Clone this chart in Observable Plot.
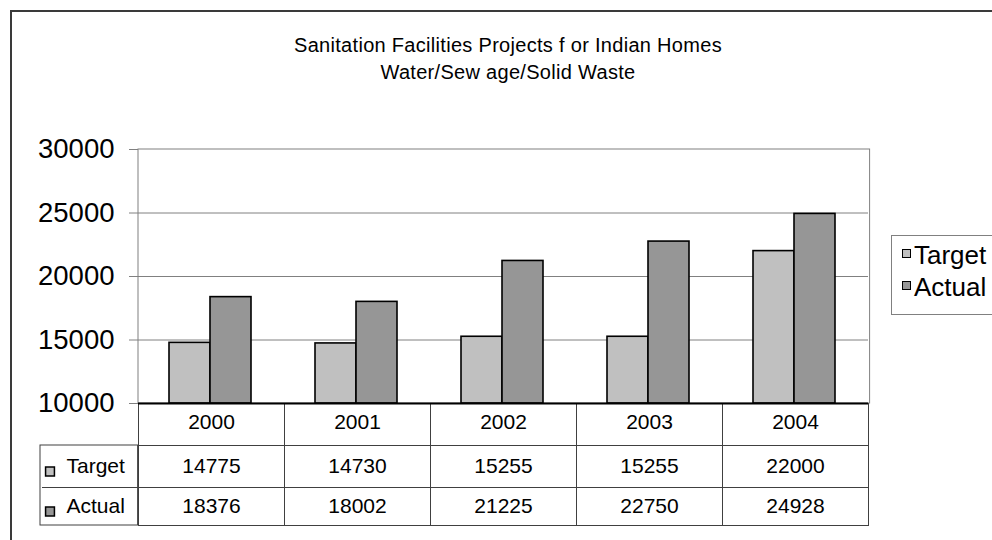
<!DOCTYPE html>
<html>
<head>
<meta charset="utf-8">
<script src="https://cdn.jsdelivr.net/npm/d3@7"></script>
<script src="https://cdn.jsdelivr.net/npm/@observablehq/plot@0.6"></script>
<style>
  html, body { margin: 0; padding: 0; background: #fff; }
  #wrap { position: relative; width: 992px; height: 540px; overflow: hidden; font-family: "Liberation Sans", Arial, sans-serif; color: #000; }
  #outer { position: absolute; left: 10px; top: 10px; width: 1100px; height: 700px; border-top: 2px solid #3a3a3a; border-left: 2px solid #3a3a3a; }
  #chart { position: absolute; left: 0; top: 0; }
  #title { position: absolute; left: 208px; top: 32px; width: 600px; text-align: center; font-size: 20px; line-height: 27px; letter-spacing: 0.3px; }
  #legend { position: absolute; left: 891px; top: 235px; width: 140px; height: 78px; border: 1px solid #808080; background: #fff; }
  .item { position: absolute; left: 0; height: 32px; line-height: 32px; font-size: 26px; white-space: nowrap; }
  .sw { position: absolute; left: 10px; top: 10px; width: 7px; height: 7px; border: 1.5px solid #000; }
  .lab { position: absolute; left: 22px; top: 0; }
</style>
</head>
<body>
<div id="wrap">
  <div id="chart"></div>
  <div id="outer"></div>
  <div id="title"></div>
  <div id="legend"></div>
</div>
<script>
// ---- data ----
const years = ["2000", "2001", "2002", "2003", "2004"];
const target = [14775, 14730, 15255, 15255, 22000];
const actual = [18376, 18002, 21225, 22750, 24928];
const seriesNames = ["Target", "Actual"];
const seriesColors = ["#c0c0c0", "#969696"];
const yTicks = [10000, 15000, 20000, 25000, 30000];
const gridTicks = [15000, 20000, 25000];
const titleLines = ["Sanitation Facilities Projects f or Indian Homes", "Water/Sew age/Solid Waste"];

const seriesValues = [target, actual];
const rows = years.flatMap((yr, i) => seriesNames.map((s, j) => ({year: yr, series: s, value: seriesValues[j][i]})));

// ---- layout ----
const W = 992, H = 540;
const mL = 137, mR = 123, mT = 149, mB = 137;
const facetW = (W - mL - mR) / years.length;
const rowH = [42, 42, 38];
const tableH = rowH[0] + rowH[1] + rowH[2];
const labelColW = 98;
const tableLine = "#404040";
const gridColor = "#808080";
const textShift = 5;
const first = () => years[0];

const marks = [
  Plot.ruleY(gridTicks, {stroke: gridColor, strokeWidth: 1}),
  // plot-area frame spanning all facets
  Plot.rect([0], {fx: first, y1: 10000, y2: 30000, insetRight: -(years.length - 1) * facetW, fill: "none", stroke: gridColor, strokeWidth: 1}),
  Plot.barY(rows, {fx: "year", x: "series", y1: 10000, y2: "value", fill: "series", stroke: "#000", strokeWidth: 1.6}),
  // data table cells (one column per facet)
  Plot.frame({insetTop: H - mT - mB, insetBottom: -tableH, stroke: tableLine, strokeWidth: 1}),
  Plot.ruleY([10000], {dy: rowH[0], stroke: tableLine, strokeWidth: 1}),
  Plot.ruleY([10000], {dy: rowH[0] + rowH[1], stroke: tableLine, strokeWidth: 1}),
  // row-label column
  Plot.rect([0], {fx: first, y1: 10000, y2: 10000, insetTop: rowH[0], insetBottom: -tableH, insetLeft: -labelColW, insetRight: facetW, fill: "none", stroke: tableLine, strokeWidth: 1}),
  Plot.ruleY([10000], {fx: first, dy: rowH[0] + rowH[1], insetLeft: -labelColW + 2, stroke: tableLine, strokeWidth: 1}),
  Plot.ruleY([10000], {stroke: "#000", strokeWidth: 2}),
  // header row
  Plot.text(years, {fx: d => d, text: d => d, frameAnchor: "bottom", dy: rowH[0] / 2 - 1 + textShift, fontSize: 21}),
  Plot.axisY({ticks: yTicks, tickSize: 9, tickPadding: 15, tickFormat: d3.format("d"), fontSize: 27.5, stroke: gridColor, label: null})
];

seriesNames.forEach((s, j) => {
  const dy = rowH[0] + (j === 0 ? rowH[1] / 2 : rowH[1] + rowH[2] / 2) + 1 + textShift;
  marks.push(Plot.text(rows.filter(r => r.series === s), {fx: "year", text: d => String(d.value), frameAnchor: "bottom", dy, fontSize: 21}));
  marks.push(Plot.text([s], {fx: first, text: d => d, frameAnchor: "bottom-left", textAnchor: "start", dx: -72, dy, fontSize: 21}));
  marks.push(Plot.dot([s], {fx: first, frameAnchor: "bottom-left", dx: -88.5, dy: dy - 1, symbol: "square", r: 5, fill: seriesColors[j], stroke: "#000", strokeWidth: 1.5}));
});

const chart = Plot.plot({
  width: W, height: H,
  marginLeft: mL, marginRight: mR, marginTop: mT, marginBottom: mB,
  style: {fontFamily: "'Liberation Sans', Arial, sans-serif", background: "transparent", color: "#000"},
  fx: {domain: years, padding: 0, axis: null, label: null},
  x: {domain: seriesNames, paddingInner: 0, paddingOuter: 0.743, align: 0.48, axis: null},
  y: {domain: [10000, 30000], axis: null},
  color: {domain: seriesNames, range: seriesColors},
  marks
});
document.getElementById("chart").appendChild(chart);

// title
const t = document.getElementById("title");
titleLines.forEach(line => { const d = document.createElement("div"); d.textContent = line; t.appendChild(d); });

// legend
const lg = document.getElementById("legend");
seriesNames.forEach((s, j) => {
  const it = document.createElement("div");
  it.className = "item";
  it.style.top = (3 + 32 * j) + "px";
  const sw = document.createElement("div");
  sw.className = "sw";
  sw.style.background = seriesColors[j];
  const lb = document.createElement("div");
  lb.className = "lab";
  lb.textContent = s;
  it.appendChild(sw); it.appendChild(lb);
  lg.appendChild(it);
});
</script>
</body>
</html>
